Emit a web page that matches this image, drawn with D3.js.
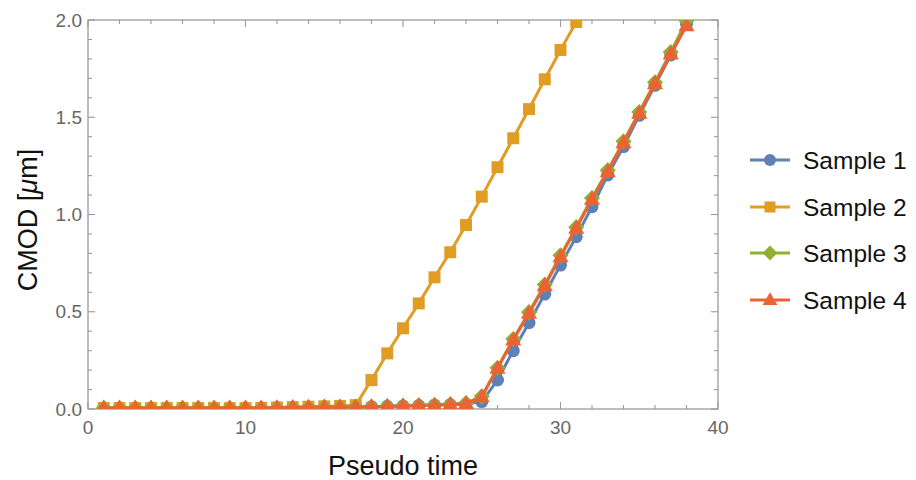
<!DOCTYPE html>
<html>
<head>
<meta charset="utf-8">
<script src="https://cdn.jsdelivr.net/npm/d3@7"></script>
<style>
  html, body { margin: 0; padding: 0; background: #fff; }
  svg { display: block; font-family: "Liberation Sans", Arial, sans-serif; }
</style>
</head>
<body>
<svg id="chart" width="916" height="480"></svg>
<script>
// ---- data ----
const pseudoTime = d3.range(1, 39); // 1..38
const sample1 = [0.005,0.005,0.005,0.005,0.005,0.005,0.005,0.005,0.005,0.005,0.005,0.006,0.008,0.009,0.01,0.01,0.011,0.012,0.014,0.016,0.018,0.02,0.022,0.025,0.038,0.149,0.30,0.444,0.591,0.74,0.886,1.04,1.203,1.349,1.51,1.664,1.82,1.98];
const sample2 = [0.005,0.005,0.005,0.005,0.005,0.005,0.005,0.005,0.005,0.005,0.006,0.008,0.01,0.012,0.014,0.016,0.02,0.149,0.286,0.415,0.543,0.677,0.806,0.946,1.092,1.243,1.392,1.542,1.695,1.846,1.99];
const sample3 = [0.005,0.005,0.005,0.005,0.005,0.005,0.005,0.005,0.005,0.005,0.005,0.006,0.008,0.009,0.01,0.01,0.011,0.012,0.014,0.016,0.018,0.02,0.024,0.03,0.065,0.212,0.36,0.498,0.64,0.79,0.935,1.085,1.228,1.376,1.527,1.68,1.835,1.996];
const sample4 = [0.005,0.005,0.005,0.005,0.005,0.005,0.005,0.005,0.005,0.005,0.005,0.006,0.008,0.009,0.01,0.01,0.011,0.012,0.014,0.016,0.018,0.02,0.023,0.028,0.063,0.209,0.355,0.492,0.634,0.783,0.929,1.078,1.22,1.369,1.52,1.672,1.825,1.97];
const seriesNames = ["Sample 1", "Sample 2", "Sample 3", "Sample 4"];
const seriesColors = ["#5E81B5", "#E19C24", "#8FB032", "#EB6235"];
const seriesShapes = ["circle", "square", "diamond", "triangle"];
const xTickLabels = [0, 10, 20, 30, 40];
const yTickLabels = [0.0, 0.5, 1.0, 1.5, 2.0];

const allSeries = [sample1, sample2, sample3, sample4].map((vals, i) => ({
  name: seriesNames[i], color: seriesColors[i], shape: seriesShapes[i],
  points: vals.map((v, j) => ({ t: pseudoTime[j], v }))
}));

// ---- layout ----
const svg = d3.select("#chart");
const L = 88, R = 718, T = 20, B = 409;
const x = d3.scaleLinear().domain([0, 40]).range([L, R]);
const y = d3.scaleLinear().domain([0, 2]).range([B, T]);
const frameColor = "#9a9a9a";
const tickTextColor = "#666";

// clip
svg.append("defs").append("clipPath").attr("id", "clip")
  .append("rect").attr("x", L).attr("y", T).attr("width", R - L).attr("height", B - T);

// frame
svg.append("rect").attr("x", L).attr("y", T).attr("width", R - L).attr("height", B - T)
  .attr("fill", "none").attr("stroke", frameColor).attr("stroke-width", 1.3);

// ticks
const xMinor = d3.range(0, 41, 2);
const yMinor = d3.range(0, 21, 1).map(d => d / 10);
const isMajorX = d => d % 10 === 0;
const isMajorY = d => Math.abs(d * 2 - Math.round(d * 2)) < 1e-9;
const tg = svg.append("g").attr("stroke", frameColor).attr("stroke-width", 1.1);
xMinor.forEach(d => {
  const len = isMajorX(d) ? 7 : 4;
  tg.append("line").attr("x1", x(d)).attr("x2", x(d)).attr("y1", B).attr("y2", B - len);
  tg.append("line").attr("x1", x(d)).attr("x2", x(d)).attr("y1", T).attr("y2", T + len);
});
yMinor.forEach(d => {
  const len = isMajorY(d) ? 7 : 4;
  tg.append("line").attr("y1", y(d)).attr("y2", y(d)).attr("x1", L).attr("x2", L + len);
  tg.append("line").attr("y1", y(d)).attr("y2", y(d)).attr("x1", R).attr("x2", R - len);
});

// tick labels
svg.append("g").selectAll("text").data(xTickLabels).join("text")
  .attr("x", d => x(d)).attr("y", 434)
  .attr("text-anchor", "middle").attr("font-size", 19).attr("fill", tickTextColor)
  .text(d => d3.format("d")(d));
svg.append("g").selectAll("text").data(yTickLabels).join("text")
  .attr("x", 82).attr("y", d => y(d) + 6.5)
  .attr("text-anchor", "end").attr("font-size", 19).attr("fill", tickTextColor)
  .text(d => d3.format(".1f")(d));

// axis labels
svg.append("text").attr("x", (L + R) / 2).attr("y", 475)
  .attr("text-anchor", "middle").attr("font-size", 27).attr("fill", "#111")
  .text("Pseudo time");
const yl = svg.append("text").attr("transform", "translate(37,220) rotate(-90)")
  .attr("text-anchor", "middle").attr("font-size", 27).attr("fill", "#111");
yl.append("tspan").text("CMOD [");
yl.append("tspan").attr("font-style", "italic").text("\u03bc");
yl.append("tspan").text("m]");

// markers
function drawMarker(g, shape, cx, cy, color, s) {
  if (shape === "circle") {
    g.append("circle").attr("cx", cx).attr("cy", cy).attr("r", s * 0.5).attr("fill", color);
  } else if (shape === "square") {
    const a = s * 0.92;
    g.append("rect").attr("x", cx - a / 2).attr("y", cy - a / 2).attr("width", a).attr("height", a).attr("fill", color);
  } else if (shape === "diamond") {
    const a = s * 0.62;
    g.append("path").attr("d", `M${cx},${cy - a}L${cx + a},${cy}L${cx},${cy + a}L${cx - a},${cy}Z`).attr("fill", color);
  } else {
    const a = s * 0.62;
    g.append("path").attr("d", `M${cx},${cy - a * 1.05}L${cx + a},${cy + a * 0.68}L${cx - a},${cy + a * 0.68}Z`).attr("fill", color);
  }
}

const plot = svg.append("g").attr("clip-path", "url(#clip)");
const line = d3.line().x(d => x(d.t)).y(d => y(d.v));
allSeries.forEach(s => {
  const g = plot.append("g");
  g.append("path").attr("d", line(s.points)).attr("fill", "none")
    .attr("stroke", s.color).attr("stroke-width", 3).attr("stroke-linejoin", "round");
  s.points.forEach(p => drawMarker(g, s.shape, x(p.t), y(p.v), s.color, 13));
});

// legend
const legendY = [160, 207, 253, 300];
allSeries.forEach((s, i) => {
  const g = svg.append("g");
  g.append("line").attr("x1", 750).attr("x2", 790).attr("y1", legendY[i]).attr("y2", legendY[i])
    .attr("stroke", s.color).attr("stroke-width", 3);
  drawMarker(g, s.shape, 770, legendY[i], s.color, 12);
  g.append("text").attr("x", 803).attr("y", legendY[i] + 8.5)
    .attr("font-size", 24.5).attr("fill", "#111").text(s.name);
});
</script>
</body>
</html>
